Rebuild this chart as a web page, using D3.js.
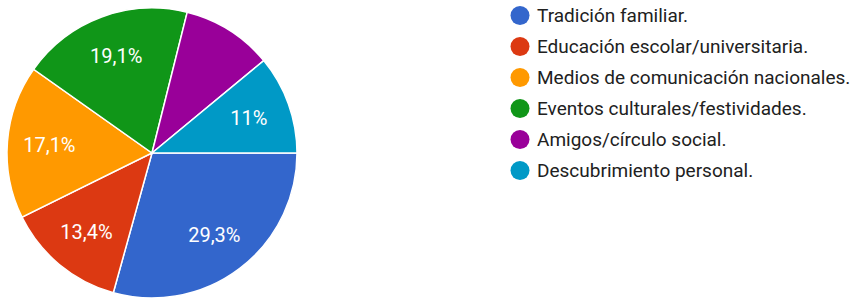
<!DOCTYPE html>
<html>
<head>
<meta charset="utf-8">
<script src="https://cdn.jsdelivr.net/npm/d3@7"></script>
<style>
  body { margin: 0; background: #fff; }
  svg { display: block; font-family: Roboto, Arial, sans-serif; }
</style>
</head>
<body>
<svg id="chart" width="854" height="301"></svg>
<script>
// datos del gráfico
const categorias = ["Tradición familiar.", "Educación escolar/universitaria.", "Medios de comunicación nacionales.",
  "Eventos culturales/festividades.", "Amigos/círculo social.", "Descubrimiento personal."];
const valores = [29.3, 13.4, 17.1, 19.1, 10.1, 11];
const etiquetas = ["29,3%", "13,4%", "17,1%", "19,1%", "", "11%"];
const colores = ["#3366cc", "#dc3912", "#ff9900", "#109618", "#990099", "#0099c6"];

const svg = d3.select("#chart");
const cx = 152, cy = 153, radio = 145;

const color = d3.scaleOrdinal().domain(categorias).range(colores);

const pie = d3.pie().sort(null).value(d => d.v)
  .startAngle(Math.PI / 2).endAngle(Math.PI / 2 + 2 * Math.PI);
const arc = d3.arc().innerRadius(0).outerRadius(radio);
const arcEtiqueta = d3.arc().innerRadius(radio * 0.71).outerRadius(radio * 0.71);

const datos = categorias.map((c, i) => ({ c: c, v: valores[i], t: etiquetas[i] }));

const g = svg.append("g").attr("transform", `translate(${cx},${cy})`);

g.selectAll("path")
  .data(pie(datos))
  .enter()
  .append("path")
  .attr("d", arc)
  .attr("fill", d => color(d.data.c))
  .attr("stroke", "#fff")
  .attr("stroke-width", 1.5);

g.selectAll("text")
  .data(pie(datos))
  .enter()
  .append("text")
  .attr("transform", d => `translate(${arcEtiqueta.centroid(d)})`)
  .attr("text-anchor", "middle")
  .attr("dominant-baseline", "central")
  .attr("fill", "#fff")
  .attr("font-size", "20px")
  .text(d => d.data.t);

// leyenda
const y = d3.scaleBand().domain(categorias).range([0, 186]);
const leyenda = svg.append("g").attr("transform", "translate(520,0)");

const filas = leyenda.selectAll("g")
  .data(categorias)
  .enter()
  .append("g")
  .attr("transform", d => `translate(0,${y(d) + y.bandwidth() / 2})`);

filas.append("circle")
  .attr("r", 9.5)
  .attr("fill", d => color(d));

filas.append("text")
  .attr("x", 17)
  .attr("dominant-baseline", "central")
  .attr("font-size", "19px")
  .attr("fill", "#212121")
  .text(d => d);
</script>
</body>
</html>
